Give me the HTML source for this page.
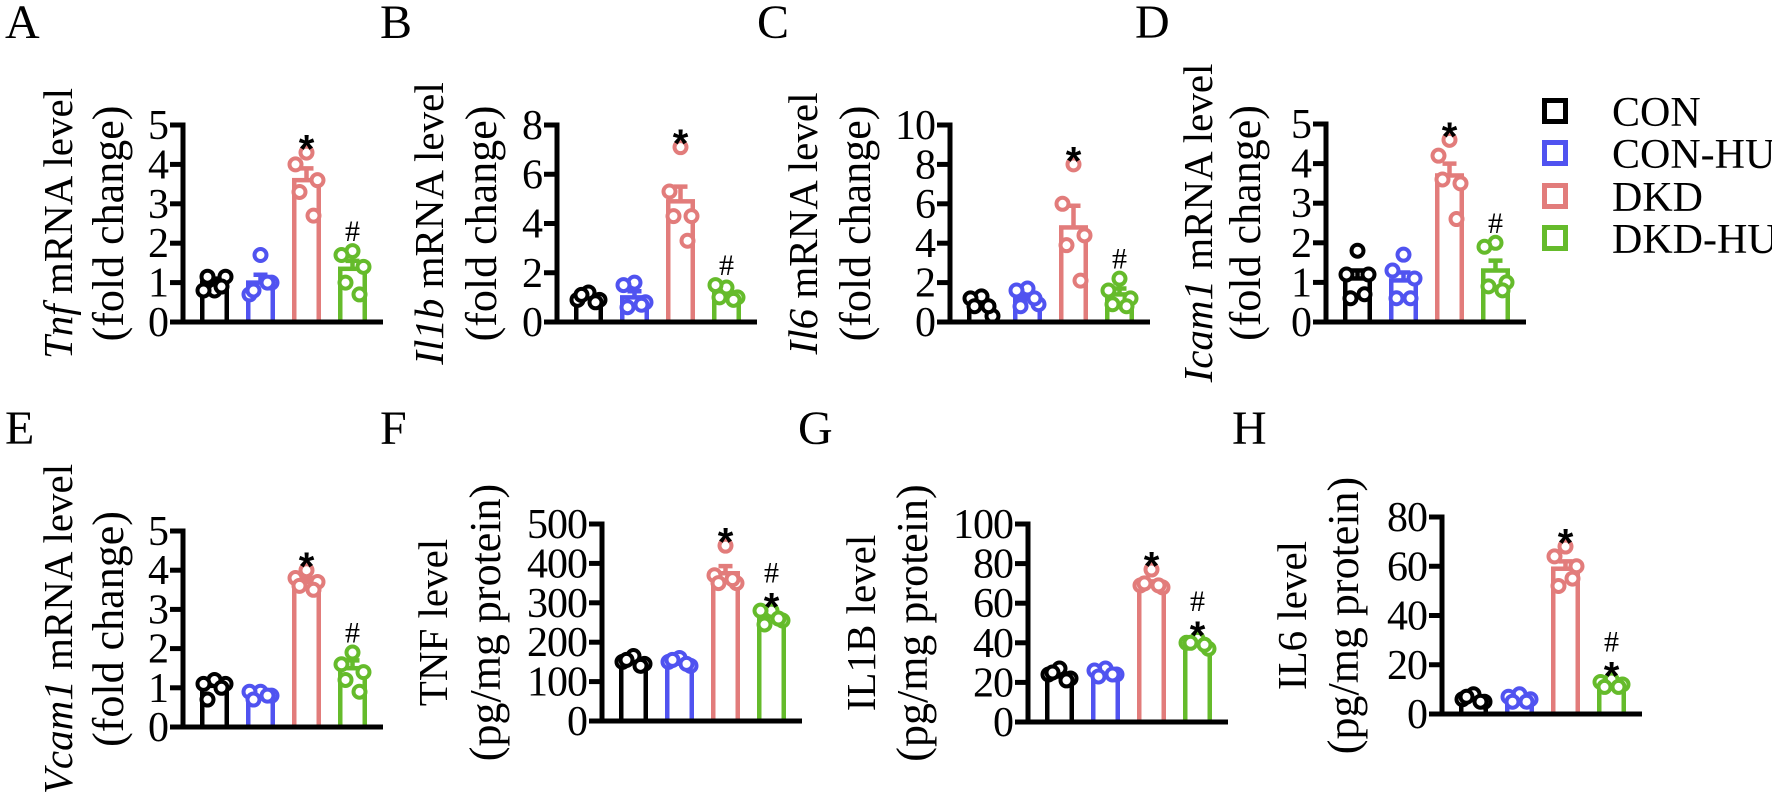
<!DOCTYPE html>
<html><head><meta charset="utf-8"><style>
html,body{margin:0;padding:0;background:#fff;}
svg{display:block;font-family:"Liberation Serif",serif;}
</style></head><body>
<svg id="fig" width="1772" height="793" viewBox="0 0 1772 793" xmlns="http://www.w3.org/2000/svg"></svg>
<script>
const groups = ["CON","CON-HU","DKD","DKD-HU"];
const colors = ["#000000","#5053f0","#e27c7b","#65bb2b"];

// Panel A: Tnf
const aMeans = [1.0, 1.0, 3.6, 1.35];
const aErrs = [0.1, 0.2, 0.3, 0.2];
const aPoints = [[0.8,0.8,1.15,1.15,0.9],[1.7,0.7,1.0,0.8,1.0],[4.3,4.0,3.6,3.3,2.7],[1.8,1.7,1.4,1.0,0.7]];
const aTicks = [0,1,2,3,4,5];
// Panel B: Il1b
const bMeans = [1.05, 1.0, 4.9, 1.15];
const bErrs = [0.1, 0.25, 0.6, 0.15];
const bPoints = [[1.2,0.9,0.9,1.1,0.8],[1.6,1.5,0.8,0.6,0.7],[7.1,5.3,4.3,4.3,3.3],[1.4,1.5,1.0,1.0,0.9]];
const bTicks = [0,2,4,6,8];
// Panel C: Il6
const cMeans = [0.85, 1.15, 4.8, 1.4];
const cErrs = [0.2, 0.2, 1.1, 0.3];
const cPoints = [[1.3,1.2,0.3,0.8,0.8],[1.7,1.6,0.9,0.8,1.2],[8.0,6.0,4.4,3.9,2.1],[2.2,1.6,1.2,0.9,0.8]];
const cTicks = [0,2,4,6,8,10];
// Panel D: Icam1
const dMeans = [1.1, 1.05, 3.7, 1.3];
const dErrs = [0.2, 0.2, 0.3, 0.25];
const dPoints = [[1.8,1.2,1.2,0.6,0.7],[1.7,1.3,1.1,0.6,0.6],[4.6,4.2,3.5,3.6,2.6],[2.0,1.9,1.0,0.9,0.8]];
const dTicks = [0,1,2,3,4,5];
// Panel E: Vcam1
const eMeans = [1.05, 0.85, 3.7, 1.5];
const eErrs = [0.08, 0.05, 0.1, 0.2];
const ePoints = [[1.2,1.1,1.1,0.7,1.0],[0.9,0.9,0.8,0.7,0.8],[4.0,3.8,3.7,3.6,3.5],[1.9,1.6,1.4,1.2,0.9]];
const eTicks = [0,1,2,3,4,5];
// Panel F: TNF
const fMeans = [150, 150, 375, 265];
const fErrs = [5, 5, 18, 8];
const fPoints = [[165,150,145,155,140],[160,150,140,155,145],[445,370,350,350,360],[280,280,255,245,260]];
const fTicks = [0,100,200,300,400,500];
// Panel G: IL1B
const gMeans = [23, 24, 69, 39];
const gErrs = [1, 1, 2, 1];
const gPoints = [[27,24,22,25,21],[27,26,24,23,24],[77,69,68,70,69],[42,40,37,40,39]];
const gTicks = [0,20,40,60,80,100];
// Panel H: IL6
const hMeans = [6, 6.5, 59, 12];
const hErrs = [0.6, 0.6, 3, 0.6];
const hPoints = [[8,6,5,7,5],[8,7,6,5,5],[68,64,60,52,55],[14,13,12,11,11]];
const hTicks = [0,20,40,60,80];

const NS = "http://www.w3.org/2000/svg";
const svg = document.getElementById("fig");
function mk(tag, attrs, parent){
  const e = document.createElementNS(NS, tag);
  for (const k in attrs) e.setAttribute(k, attrs[k]);
  (parent||svg).appendChild(e);
  return e;
}

const panels = [
  {id:"a",letter:"A",lx:5,ly:38,ax:183,top:125,base:322,means:aMeans,errs:aErrs,pts:aPoints,ticks:aTicks,l1i:"Tnf",l1:" mRNA level",l2:"(fold change)",o1:-126,o2:-75,marks:["","","*","#"]},
  {id:"b",letter:"B",lx:380,ly:38,ax:557,top:125,base:322,means:bMeans,errs:bErrs,pts:bPoints,ticks:bTicks,l1i:"Il1b",l1:" mRNA level",l2:"(fold change)",o1:-129,o2:-76,marks:["","","*","#"]},
  {id:"c",letter:"C",lx:757,ly:38,ax:950,top:125,base:322,means:cMeans,errs:cErrs,pts:cPoints,ticks:cTicks,l1i:"Il6",l1:" mRNA level",l2:"(fold change)",o1:-148,o2:-95,marks:["","","*","#"]},
  {id:"d",letter:"D",lx:1135,ly:38,ax:1326,top:124,base:322,means:dMeans,errs:dErrs,pts:dPoints,ticks:dTicks,l1i:"Icam1",l1:" mRNA level",l2:"(fold change)",o1:-129,o2:-81,marks:["","","*","#"]},
  {id:"e",letter:"E",lx:5,ly:444,ax:183,top:531,base:727,means:eMeans,errs:eErrs,pts:ePoints,ticks:eTicks,l1i:"Vcam1",l1:" mRNA level",l2:"(fold change)",o1:-126,o2:-75,marks:["","","*","#"]},
  {id:"f",letter:"F",lx:380,ly:444,ax:602,top:524,base:721,means:fMeans,errs:fErrs,pts:fPoints,ticks:fTicks,l1i:"",l1:"TNF level",l2:"(pg/mg protein)",o1:-170,o2:-117,marks:["","","*","*#"]},
  {id:"g",letter:"G",lx:798,ly:444,ax:1028,top:524,base:722,means:gMeans,errs:gErrs,pts:gPoints,ticks:gTicks,l1i:"",l1:"IL1B level",l2:"(pg/mg protein)",o1:-168,o2:-116,marks:["","","*","*#"]},
  {id:"h",letter:"H",lx:1232,ly:444,ax:1442,top:517,base:714,means:hMeans,errs:hErrs,pts:hPoints,ticks:hTicks,l1i:"",l1:"IL6 level",l2:"(pg/mg protein)",o1:-151,o2:-99,marks:["","","*","*#"]}
];

const offs = [0,-11,11,-7,7];
panels.forEach(p=>{
  const g = mk("g",{});
  
  
  const maxV = p.ticks[p.ticks.length-1];
  const y = v => p.base - (v/maxV)*(p.base-p.top);
  const bx = i => p.ax + 17 + i*46;
  const bw = 29;

  const L = mk("text",{x:p.lx,y:p.ly,"font-size":48},g);
  L.textContent = p.letter;
  
  

  const cy = (p.top+p.base)/2;
  const t1 = mk("text",{x:0,y:0,"font-size":41,"text-anchor":"middle",transform:`translate(${p.ax+p.o1+15},${cy}) rotate(-90)`},g);
  
  
  if (p.l1i){ const s = mk("tspan",{"font-style":"italic"},t1); s.textContent = p.l1i; }
  const s2 = mk("tspan",{},t1); s2.textContent = p.l1;
  const t2 = mk("text",{x:0,y:0,"font-size":44,"text-anchor":"middle",transform:`translate(${p.ax+p.o2+15},${cy}) rotate(-90)`},g);
  t2.textContent = p.l2;
  
  

  p.means.forEach((m,i)=>{
    const r = mk("rect",{x:bx(i)+2.25,y:y(m),width:bw-4.5,height:p.base-y(m),fill:"none",stroke:colors[i],"stroke-width":4.5},g);
    
    
    const cx = bx(i)+bw/2;
    const e = mk("path",{d:`M${cx},${y(m)} V${y(m+p.errs[i])} M${cx-7},${y(m+p.errs[i])} H${cx+7}`,stroke:colors[i],"stroke-width":4.5,fill:"none"},g);
    
    
    p.pts[i].forEach((v,j)=>{
      const c = mk("circle",{cx:cx+offs[j],cy:y(v),r:6,fill:"#fff",stroke:colors[i],"stroke-width":4},g);
      
      
    });
    const mk_ = p.marks[i];
    if (mk_){
      const top = Math.max(...p.pts[i], m+p.errs[i]);
      let ty = y(top) - 10;
      if (mk_.includes("*")){
        const st = mk("text",{x:cx,y:ty+20,"font-size":40,"font-weight":"bold","text-anchor":"middle","font-family":"Liberation Sans, sans-serif"},g);
        st.textContent = "*";
        
        
        ty -= 18;
      }
      if (mk_.includes("#")){
        const h = mk("text",{x:cx,y:ty,"font-size":30,"text-anchor":"middle"},g);
        h.textContent = "#";
        
        
      }
    }
  });

  const ax = mk("path",{d:`M${p.ax},${p.top-2.5} V${p.base}`,stroke:"#000","stroke-width":5,fill:"none"},g);
  
  
  const xa = mk("path",{d:`M${p.ax-13},${p.base} H${p.ax+200}`,stroke:"#000","stroke-width":5,fill:"none"},g);
  
  
  p.ticks.forEach(t=>{
    const tk = mk("path",{d:`M${p.ax-13},${y(t)} H${p.ax}`,stroke:"#000","stroke-width":5},g);
    
    
    const tl = mk("text",{x:p.ax-15,y:y(t)+14,"font-size":42,"text-anchor":"end","letter-spacing":"-1"},g);
    tl.textContent = t;
    
    
  });
});

const lg = mk("g",{});


const legY = [111,153,196,238];
groups.forEach((gname,i)=>{
  const r = mk("rect",{x:1544.5,y:legY[i]-10.5,width:21,height:21,fill:"none",stroke:colors[i],"stroke-width":5},lg);
  
  
  const t = mk("text",{x:1612,y:legY[i]+15,"font-size":42},lg);
  t.textContent = gname;
  
  
});
</script>
</body></html>
